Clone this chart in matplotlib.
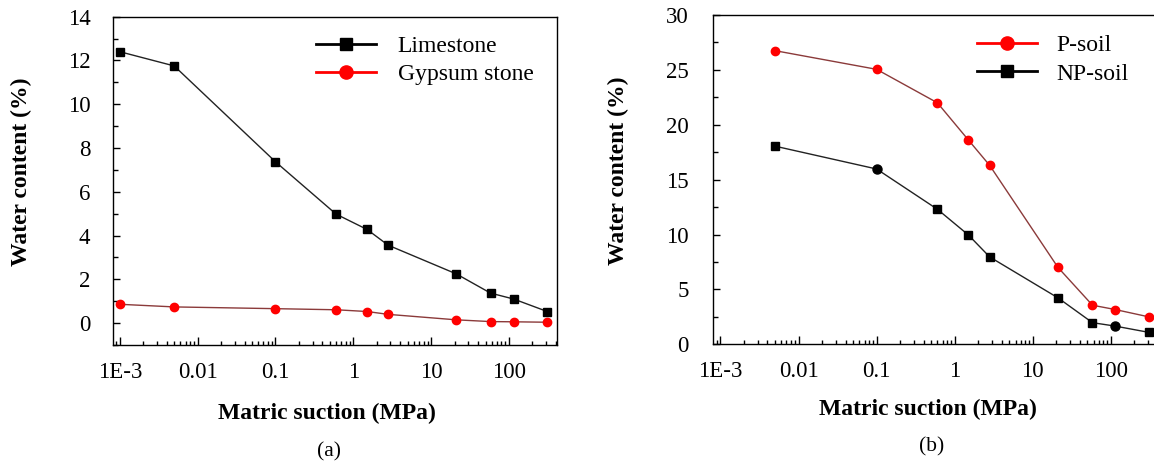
import numpy as np
import matplotlib
matplotlib.use("Agg")
import matplotlib.pyplot as plt
from matplotlib.lines import Line2D
from matplotlib.ticker import MultipleLocator, LogLocator, NullFormatter

plt.rcParams['font.family'] = ['Liberation Serif', 'DejaVu Serif']

# panel (a) data
suction_a = [0.001, 0.005, 0.1, 0.6, 1.5, 2.8, 21, 58, 115, 310]
limestone = [12.4, 11.75, 7.37, 4.98, 4.28, 3.56, 2.25, 1.37, 1.1, 0.53]
gypsum = [0.86, 0.74, 0.66, 0.61, 0.53, 0.4, 0.15, 0.07, 0.06, 0.04]

# panel (b) data
suction_b = [0.005, 0.1, 0.6, 1.5, 2.8, 21, 58, 113, 310]
p_soil = [26.75, 25.05, 22.0, 18.6, 16.3, 7.0, 3.56, 3.17, 2.49]
np_soil = [18.05, 15.97, 12.3, 9.95, 7.96, 4.23, 1.97, 1.66, 1.08]
np_circle_idx = [1, 7]  # a couple of NP-soil markers are drawn as circles

xticks = [1e-3, 0.01, 0.1, 1, 10, 100]
xticklabels = ['1E-3', '0.01', '0.1', '1', '10', '100']

RED = '#ff0000'
RED_LINE = '#8b3a3a'
BLACK_LINE = '#222222'

fig = plt.figure(figsize=(11.54, 4.63), dpi=100)
W, H = 1154.0, 463.0


def make_axes(l, r, t, b):
    return fig.add_axes([l / W, 1 - b / H, (r - l) / W, (b - t) / H])


def style_axes(ax, ymaj, ymin, ylim, ypad, xpad):
    ax.set_xscale('log')
    ax.set_xlim(8.1e-4, 410)
    ax.set_ylim(*ylim)
    ax.set_xticks(xticks, xticklabels)
    ax.xaxis.set_minor_locator(LogLocator(base=10, subs=np.arange(2, 10), numticks=20))
    ax.xaxis.set_minor_formatter(NullFormatter())
    ax.yaxis.set_major_locator(MultipleLocator(ymaj))
    ax.yaxis.set_minor_locator(MultipleLocator(ymin))
    ax.tick_params(which='both', direction='in', top=False, right=False, width=1)
    ax.tick_params(axis='y', which='major', length=5, pad=ypad, labelsize=16.5)
    ax.tick_params(axis='y', which='minor', length=3.5)
    ax.tick_params(axis='x', which='major', length=5.5, pad=xpad, labelsize=16.5)
    ax.tick_params(axis='x', which='minor', length=3)
    for s in ax.spines.values():
        s.set_linewidth(1.0)


# ---- (a)
ax1 = make_axes(112.7, 556.7, 16.7, 345)
ax1.plot(suction_a, gypsum, color=RED_LINE, lw=1.0, marker='o', ms=6,
         mfc=RED, mec=RED, zorder=3)
ax1.plot(suction_a, limestone, color=BLACK_LINE, lw=1.0, marker='s', ms=5.5,
         mfc='black', mec='black', zorder=3)
style_axes(ax1, 2, 1, (-1, 14), 16, 12.5)
ax1.set_xlabel('Matric suction (MPa)', fontsize=17, fontweight='bold')
ax1.xaxis.set_label_coords(0.483, -0.207)
ax1.xaxis.label.set_va('center')
ax1.set_ylabel('Water content (%)', fontsize=17, fontweight='bold', va='center')
ax1.yaxis.set_label_coords(-0.205, 0.527)

h1 = [Line2D([], [], color='black', lw=2, marker='s', ms=9),
      Line2D([], [], color=RED, lw=2, marker='o', ms=9.5)]
ax1.legend(h1, ['Limestone', 'Gypsum stone'], loc='upper left',
           bbox_to_anchor=(0.459, 0.943), frameon=False, fontsize=17,
           handlelength=2.54, handletextpad=0.9, labelspacing=0.29,
           borderpad=0, borderaxespad=0)
fig.text(329 / W, 1 - 452 / H, '(a)', fontsize=15.5, ha='center', va='center')

# ---- (b)
ax2 = make_axes(713.3, 1158.8, 15, 344.3)
ax2.plot(suction_b, p_soil, color=RED_LINE, lw=1.0, marker='o', ms=6,
         mfc=RED, mec=RED, zorder=3)
ax2.plot(suction_b, np_soil, color=BLACK_LINE, lw=1.0, zorder=3)
sq_idx = [i for i in range(len(suction_b)) if i not in np_circle_idx]
ax2.plot([suction_b[i] for i in sq_idx], [np_soil[i] for i in sq_idx],
         ls='none', marker='s', ms=5.5, color='black', zorder=4)
ax2.plot([suction_b[i] for i in np_circle_idx], [np_soil[i] for i in np_circle_idx],
         ls='none', marker='o', ms=6.5, color='black', zorder=4)
style_axes(ax2, 5, 2.5, (0, 30), 17.5, 12)
ax2.set_xlabel('Matric suction (MPa)', fontsize=17, fontweight='bold')
ax2.xaxis.set_label_coords(0.482, -0.198)
ax2.xaxis.label.set_va('center')
ax2.set_ylabel('Water content (%)', fontsize=17, fontweight='bold', va='center')
ax2.yaxis.set_label_coords(-0.212, 0.526)

h2 = [Line2D([], [], color=RED, lw=2, marker='o', ms=9.5),
      Line2D([], [], color='black', lw=2, marker='s', ms=9)]
ax2.legend(h2, ['P-soil', 'NP-soil'], loc='upper left',
           bbox_to_anchor=(0.591, 0.94), frameon=False, fontsize=17,
           handlelength=2.54, handletextpad=0.83, labelspacing=0.29,
           borderpad=0, borderaxespad=0)
fig.text(932 / W, 1 - 447 / H, '(b)', fontsize=15.5, ha='center', va='center')

fig.savefig('out.png', dpi=100)
